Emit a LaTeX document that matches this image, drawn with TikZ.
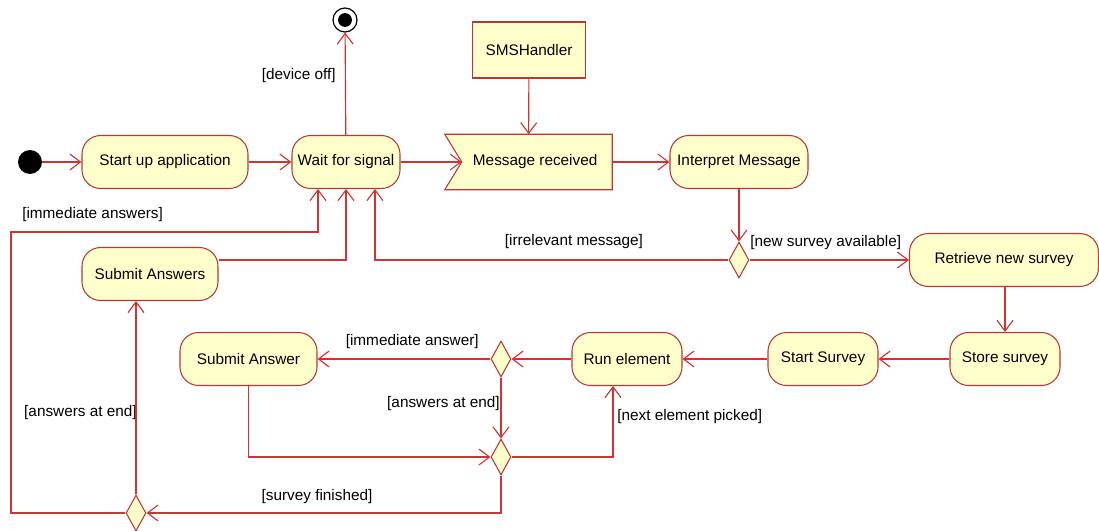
\documentclass[tikz,border=0pt]{standalone}
\usepackage{fontspec}
\setmainfont{Liberation Sans}
\usetikzlibrary{arrows.meta,shapes.geometric,backgrounds}
\definecolor{actfill}{RGB}{255,255,204}
\definecolor{actline}{RGB}{185,55,55}
\definecolor{flowred}{RGB}{210,50,50}
\tikzset{
  act/.style={draw=actline, fill=actfill, line width=0.8pt, rounded corners=14pt,
    minimum width=#1, minimum height=39.75pt, inner sep=0pt},
  choice/.style={diamond, draw=actline, fill=actfill, line width=0.8pt,
    minimum width=15pt, minimum height=27pt, inner sep=0pt},
  flow/.style={draw=flowred, line width=0.85pt, -{Straight Barb[length=8pt,width=12pt]}},
  guard/.style={inner sep=0pt},
}

\begin{document}
\begin{tikzpicture}[x=0.75pt, y=-0.75pt, font=\fontsize{11.5}{13}\selectfont]
    \useasboundingbox (0,0) rectangle (1099,531);
    \node[circle, fill=black, minimum size=18pt, inner sep=0pt] (init) at (30,162) {};
    \node[circle, draw=black, line width=0.9pt, minimum size=18pt, inner sep=0pt,
      path picture={\fill (path picture bounding box.center) circle (5.2pt);}] (final) at (345,20) {};
    \node[act=124.5pt] (startup) at (165,162) {Start up application};
    \node[act=81pt] (wait) at (346,162) {Wait for signal};
    \node[draw=actline, fill=actfill, line width=0.8pt, minimum width=84.75pt, minimum height=42pt] (sms) at (529,50) {SMSHandler};
    \node[minimum width=125.25pt, minimum height=41.25pt, inner sep=0pt] (msg) at (528.5,162) {\hspace{10pt}Message received};
    \node[act=103.5pt] (interp) at (739,162) {Interpret Message};
    \node[choice] (dec1) at (739,260) {};
    \node[act=141.75pt] (retrieve) at (1004,260) {Retrieve new survey};
    \node[act=82.5pt] (store) at (1005,359) {Store survey};
    \node[act=82.5pt] (startsv) at (823,359) {Start Survey};
    \node[act=82.5pt] (run) at (627,359) {Run element};
    \node[choice] (dec2) at (501,359) {};
    \node[act=102.75pt] (subans) at (248.5,359) {Submit Answer};
    \node[choice] (dec3) at (501,457) {};
    \node[choice] (dec4) at (136,513) {};
    \node[act=102pt] (subs) at (150,274) {Submit Answers};

    \begin{scope}[on background layer]
    \draw[draw=actline, fill=actfill, line width=0.8pt] (msg.north west) -- (msg.north east)
      -- (msg.south east) -- (msg.south west) -- ([xshift=12.75pt]msg.west) -- cycle;
    \end{scope}
    \coordinate (notch) at ([xshift=12.75pt]msg.west);
    \coordinate (w1) at ([xshift=-21pt]wait.south);
    \coordinate (w2) at (wait.south);
    \coordinate (w3) at ([xshift=21.75pt]wait.south);
    \coordinate (runin) at ([xshift=-10.5pt]run.south);

    \node[guard, anchor=east] (off) at (336,76) {[device off]};
    \node[guard, anchor=west] (immall) at (22,215) {[immediate answers]};
    \node[guard] (irrel) at (574,242) {[irrelevant message]};
    \node[guard, anchor=west] (newsv) at (750,243) {[new survey available]};
    \node[guard, anchor=east] (immone) at (479,342) {[immediate answer]};
    \node[guard, anchor=east] (atend) at (500,404) {[answers at end]};
    \node[guard, anchor=west] (next) at (617,417) {[next element picked]};
    \node[guard] (done) at (317,497) {[survey finished]};
    \node[guard, anchor=east] (atendall) at (137,413) {[answers at end]};

    \draw[flow] (init) -- (startup);
    \draw[flow] (startup) -- (wait);
    \draw[flow] (wait) -- (final);
    \draw[flow] (wait) -- (notch);
    \draw[flow] (sms) -- (msg);
    \draw[flow] (msg) -- (interp);
    \draw[flow] (interp) -- (dec1);
    \draw[flow] (dec1.west) -| (w3);
    \draw[flow] (dec1.east) -- (retrieve);
    \draw[flow] (store.north |- retrieve.south) -- (store);
    \draw[flow] (store) -- (startsv);
    \draw[flow] (startsv) -- (run);
    \draw[flow] (run) -- (dec2);
    \draw[flow] (dec2) -- (subans);
    \draw[flow] (dec2) -- (dec3);
    \draw[flow] (subans.south) |- (dec3.west);
    \draw[flow] (dec3.east) -| (runin);
    \draw[flow] (dec3.south) |- (dec4.east);
    \draw[flow] (dec4.north) -- (dec4.north |- subs.south);
    \draw[flow] (dec4.west) -| (11,232) -| (w1);
    \draw[flow] ([yshift=10.5pt]subs.east) -| (w2);
\end{tikzpicture}
\end{document}
